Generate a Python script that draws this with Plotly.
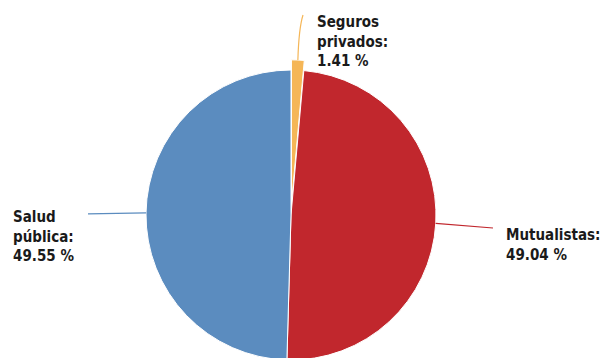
import math
import plotly.graph_objects as go

# Distribución por tipo de cobertura
labels = ["Seguros privados", "Mutualistas", "Salud pública"]
values = [1.41, 49.04, 49.55]
label_text = ["Seguros<br>privados:<br>1.41 %", "Mutualistas:<br>49.04 %", "Salud<br>pública:<br>49.55 %"]
colors = ["#F5B657", "#C1272D", "#5B8CBF"]
pulls = [0.07, 0, 0]

W, H = 603, 374
CX, CY, R = 291, 215, 145            # pie centre / radius in pixels
half = R * (1 + max(pulls))           # plotly shrinks the pie by the largest pull


def px(x):
    return x / W


def py(y):
    return 1 - y / H


fig = go.Figure(go.Pie(
    labels=labels, values=values, sort=False, direction="clockwise", rotation=0,
    marker=dict(colors=colors, line=dict(color="white", width=1)),
    pull=pulls, textinfo="none", hoverinfo="label+percent", showlegend=False,
    domain=dict(x=[px(CX - half), px(CX + half)], y=[py(CY + half), py(CY - half)]),
))

# angle of each slice's middle, clockwise from 12 o'clock
total = sum(values)
mids, acc = [], 0.0
for v in values:
    mids.append((acc + v / 2) / total * 2 * math.pi)
    acc += v


def edge(i):
    rr = R * (1 + pulls[i])
    return CX + rr * math.sin(mids[i]), CY - rr * math.cos(mids[i])


# leader lines
x0, y0 = edge(0)
fig.add_shape(type="path", xref="paper", yref="paper",
              path=f"M {px(x0)} {py(y0)} Q {px(x0 + 1)} {py(28)} {px(303)} {py(15)}",
              line=dict(color=colors[0], width=1.2))
x1, y1 = edge(1)
fig.add_shape(type="line", xref="paper", yref="paper",
              x0=px(x1), y0=py(y1), x1=px(493), y1=py(228),
              line=dict(color=colors[1], width=1.2))
x2, y2 = edge(2)
fig.add_shape(type="line", xref="paper", yref="paper",
              x0=px(x2), y0=py(y2), x1=px(88), y1=py(y2 + 1),
              line=dict(color=colors[2], width=1.2))

# labels
anchors = [(315, 11), (504, 224), (11, 206)]
for txt, (ax, ay) in zip(label_text, anchors):
    fig.add_annotation(x=px(ax), y=py(ay), xref="paper", yref="paper",
                       xanchor="left", yanchor="top", align="left", showarrow=False,
                       text=f"<b>{txt}</b>",
                       font=dict(family="DejaVu Sans Condensed, DejaVu Sans", size=15,
                                 color="#1A1A1A"))

fig.update_layout(width=W, height=H, margin=dict(l=0, r=0, t=0, b=0),
                  paper_bgcolor="white", plot_bgcolor="white")

fig.write_html("out.html",
               post_script="document.documentElement.style.overflow='hidden';document.body.style.overflow='hidden';")
